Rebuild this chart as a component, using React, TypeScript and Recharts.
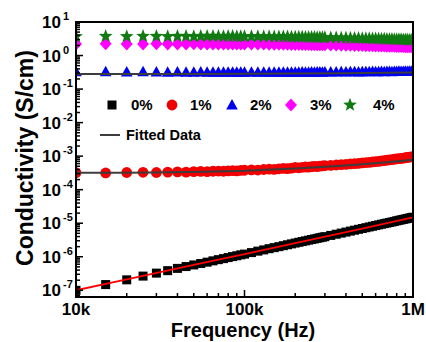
import React from "react";
import { Scatter, ScatterChart, XAxis, YAxis } from "recharts";

// frequency in kHz (10k .. 1M)
const FREQ_KHZ = [
  10, 15, 20, 25, 30, 35, 40, 45, 50, 55, 60, 65, 70, 75, 80, 85, 90, 95, 100,
  110, 120, 130, 140, 150, 160, 170, 180, 190, 200, 210, 220, 230, 240, 250, 260, 270, 280, 290, 300,
  325, 350, 375, 400, 425, 450, 475, 500, 525, 550, 575, 600, 625, 650, 675, 700, 725, 750, 775, 800,
  825, 850, 875, 900, 925, 950, 975, 1000,
];

// conductivity (S/cm) per doping level
const SIGMA_0 = [
  1.0e-7, 1.48e-7, 2.05e-7, 2.65e-7, 3.25e-7, 3.85e-7, 4.5e-7, 5.1e-7, 5.7e-7, 6.3e-7, 6.9e-7, 7.55e-7, 8.2e-7, 8.8e-7, 9.45e-7, 1.01e-6, 1.07e-6, 1.14e-6, 1.2e-6,
  1.33e-6, 1.47e-6, 1.6e-6, 1.74e-6, 1.87e-6, 2.0e-6, 2.14e-6, 2.28e-6, 2.42e-6, 2.56e-6, 2.7e-6, 2.84e-6, 2.98e-6, 3.12e-6, 3.26e-6, 3.4e-6, 3.55e-6, 3.69e-6, 3.83e-6, 3.97e-6,
  4.33e-6, 4.7e-6, 5.07e-6, 5.44e-6, 5.82e-6, 6.2e-6, 6.58e-6, 6.96e-6, 7.35e-6, 7.74e-6, 8.13e-6, 8.52e-6, 8.92e-6, 9.32e-6, 9.72e-6, 1.01e-5, 1.05e-5, 1.09e-5, 1.13e-5, 1.18e-5,
  1.22e-5, 1.26e-5, 1.3e-5, 1.34e-5, 1.38e-5, 1.43e-5, 1.47e-5, 1.51e-5,
];
const SIGMA_1 = [
  3.2e-4, 3.15e-4, 3.25e-4, 3.3e-4, 3.25e-4, 3.35e-4, 3.4e-4, 3.35e-4, 3.45e-4, 3.5e-4, 3.45e-4, 3.55e-4, 3.6e-4, 3.55e-4, 3.65e-4, 3.7e-4, 3.65e-4, 3.75e-4, 3.8e-4,
  3.9e-4, 3.85e-4, 4.0e-4, 4.1e-4, 4.05e-4, 4.2e-4, 4.3e-4, 4.25e-4, 4.4e-4, 4.6e-4, 4.5e-4, 4.65e-4, 4.75e-4, 4.7e-4, 4.85e-4, 4.95e-4, 4.9e-4, 5.05e-4, 5.15e-4, 5.2e-4,
  5.3e-4, 5.45e-4, 5.6e-4, 5.7e-4, 5.85e-4, 6.0e-4, 6.1e-4, 6.3e-4, 6.45e-4, 6.55e-4, 6.75e-4, 6.9e-4, 7.0e-4, 7.2e-4, 7.35e-4, 7.6e-4, 7.7e-4, 7.9e-4, 8.1e-4, 8.25e-4,
  8.4e-4, 8.6e-4, 8.75e-4, 8.95e-4, 9.1e-4, 9.3e-4, 9.45e-4, 9.6e-4,
];
const SIGMA_2 = [
  0.33, 0.33, 0.325, 0.33, 0.325, 0.32, 0.325, 0.32, 0.32, 0.325, 0.32, 0.32, 0.315, 0.32, 0.32, 0.315, 0.32, 0.315, 0.32,
  0.32, 0.315, 0.32, 0.32, 0.315, 0.32, 0.32, 0.315, 0.32, 0.32, 0.32, 0.325, 0.32, 0.32, 0.325, 0.32, 0.325, 0.325, 0.32, 0.325,
  0.325, 0.325, 0.33, 0.325, 0.33, 0.33, 0.325, 0.33, 0.33, 0.33, 0.335, 0.33, 0.33, 0.335, 0.33, 0.335, 0.335, 0.33, 0.335, 0.335,
  0.34, 0.335, 0.335, 0.34, 0.335, 0.34, 0.34, 0.34,
];
const SIGMA_3 = [
  2.2, 2.25, 2.2, 2.2, 2.25, 2.2, 2.2, 2.2, 2.25, 2.2, 2.2, 2.2, 2.2, 2.2, 2.2, 2.2, 2.2, 2.2, 2.2,
  2.2, 2.2, 2.2, 2.18, 2.18, 2.18, 2.17, 2.16, 2.15, 2.15, 2.14, 2.13, 2.12, 2.12, 2.11, 2.1, 2.1, 2.09, 2.08, 2.08,
  2.06, 2.05, 2.04, 2.02, 2.01, 2.0, 1.99, 1.98, 1.97, 1.96, 1.95, 1.94, 1.93, 1.92, 1.91, 1.9, 1.89, 1.89, 1.88, 1.87,
  1.86, 1.86, 1.85, 1.84, 1.84, 1.83, 1.82, 1.82,
];
const SIGMA_4 = [
  3.7, 3.75, 3.7, 3.75, 3.75, 3.7, 3.75, 3.75, 3.7, 3.75, 3.75, 3.75, 3.75, 3.7, 3.75, 3.75, 3.7, 3.7, 3.7,
  3.7, 3.7, 3.68, 3.68, 3.66, 3.65, 3.64, 3.62, 3.6, 3.6, 3.58, 3.56, 3.55, 3.54, 3.52, 3.5, 3.49, 3.48, 3.46, 3.45,
  3.42, 3.4, 3.37, 3.34, 3.32, 3.3, 3.27, 3.25, 3.23, 3.21, 3.19, 3.17, 3.15, 3.13, 3.11, 3.09, 3.08, 3.06, 3.04, 3.03,
  3.01, 3.0, 2.98, 2.97, 2.95, 2.94, 2.92, 2.91,
];

// fitted curves
const FIT0_FREQ = [10, 20, 50, 100, 200, 500, 1000];
const FIT0 = [1.0e-7, 2.1e-7, 5.7e-7, 1.2e-6, 2.55e-6, 6.9e-6, 1.5e-5];
const FIT_FREQ = [10, 20, 50, 100, 200, 400, 700, 1000];
const FIT1 = [3.2e-4, 3.22e-4, 3.35e-4, 3.65e-4, 4.3e-4, 5.3e-4, 6.6e-4, 7.8e-4];
const FIT2 = [0.28, 0.28, 0.282, 0.285, 0.29, 0.297, 0.305, 0.312];

const X_TICKS = [10, 20, 30, 40, 50, 60, 70, 80, 90, 100, 200, 300, 400, 500, 600, 700, 800, 900, 1000];
const X_LABELS: Record<number, string> = { 10: "10k", 100: "100k", 1000: "1M" };
const Y_EXPONENTS = [-7, -6, -5, -4, -3, -2, -1, 0, 1];
const Y_MIN = Math.pow(10, -7.2);
const Y_MAX = 10;

const Y_TICKS: number[] = [];
for (let n = -8; n <= 1; n++) {
  for (let k = 1; k <= 9; k++) {
    const v = k * Math.pow(10, n);
    if (v >= Y_MIN && v <= Y_MAX * 1.0001) Y_TICKS.push(v);
  }
}

const FONT = "Arial, 'Liberation Sans', sans-serif";

const toPoints = (fs: number[], vs: number[]) => fs.map((f, i) => ({ f, v: vs[i] }));

const Square = ({ cx, cy }: any) => <rect x={cx - 4.5} y={cy - 4.5} width={9} height={9} fill="#000" />;
const Dot = ({ cx, cy }: any) => <circle cx={cx} cy={cy} r={5.4} fill="#f00000" />;
const Tri = ({ cx, cy }: any) => (
  <polygon points={`${cx},${cy - 6} ${cx + 5.8},${cy + 4.5} ${cx - 5.8},${cy + 4.5}`} fill="#0000f0" />
);
const Diamond = ({ cx, cy }: any) => (
  <polygon points={`${cx},${cy - 6.5} ${cx + 6},${cy} ${cx},${cy + 6.5} ${cx - 6},${cy}`} fill="#ff00ff" />
);
const Star = ({ cx, cy }: any) => {
  const pts: string[] = [];
  for (let i = 0; i < 10; i++) {
    const r = i % 2 === 0 ? 7.2 : 3;
    const a = -Math.PI / 2 + (i * Math.PI) / 5;
    pts.push(`${cx + r * Math.cos(a)},${cy + r * Math.sin(a)}`);
  }
  return <polygon points={pts.join(" ")} fill="#127a12" />;
};
const NoShape = () => <g />;

const XTick = ({ x, y, payload }: any) => {
  const label = X_LABELS[payload.value];
  return (
    <g>
      <line x1={x} x2={x} y1={y} y2={y - (label ? 7 : 4)} stroke="#000" strokeWidth={1.5} />
      {label && (
        <text x={x} y={y + 18} textAnchor="middle" fontFamily={FONT} fontWeight="bold" fontSize={17} fill="#000">
          {label}
        </text>
      )}
    </g>
  );
};

const YTick = ({ x, y, payload }: any) => {
  const e = Math.log10(payload.value);
  const major = Math.abs(e - Math.round(e)) < 1e-6 && Y_EXPONENTS.includes(Math.round(e));
  return (
    <g>
      <line x1={x} x2={x + (major ? 7 : 4)} y1={y} y2={y} stroke="#000" strokeWidth={1.5} />
      {major && (
        <text fontFamily={FONT} fontWeight="bold" fill="#000">
          <tspan x={x - 34} y={y + 6} fontSize={17}>10</tspan>
          <tspan x={x - 13} y={y - 2} fontSize={11}>{Math.round(e)}</tspan>
        </text>
      )}
    </g>
  );
};

const LEGEND = [
  { label: "0%", Icon: Square, ix: 112, tx: 131 },
  { label: "1%", Icon: Dot, ix: 172, tx: 190 },
  { label: "2%", Icon: Tri, ix: 232, tx: 250 },
  { label: "3%", Icon: Diamond, ix: 291, tx: 310 },
  { label: "4%", Icon: Star, ix: 350, tx: 373 },
];

export default function App() {
  return (
    <div style={{ position: "fixed", left: 0, top: 0, width: 426, height: 342, background: "#fff" }}>
      <ScatterChart width={426} height={342} margin={{ top: 22, right: 13, bottom: 0, left: 0 }}>
        <XAxis
          dataKey="f"
          type="number"
          scale="log"
          domain={[10, 1000]}
          ticks={X_TICKS}
          interval={0}
          tick={(p: any) => <XTick {...p} />}
          tickLine={false}
          axisLine={false}
          tickSize={0}
          tickMargin={0}
          height={45}
          allowDataOverflow
        />
        <YAxis
          dataKey="v"
          type="number"
          scale="log"
          domain={[Y_MIN, Y_MAX]}
          ticks={Y_TICKS}
          interval={0}
          tick={(p: any) => <YTick {...p} />}
          tickLine={false}
          axisLine={false}
          tickSize={0}
          tickMargin={0}
          width={76}
          allowDataOverflow
        />
        <Scatter data={toPoints(FREQ_KHZ, SIGMA_0)} shape={Square} isAnimationActive={false} />
        <Scatter data={toPoints(FREQ_KHZ, SIGMA_1)} shape={Dot} isAnimationActive={false} />
        <Scatter data={toPoints(FREQ_KHZ, SIGMA_2)} shape={Tri} isAnimationActive={false} />
        <Scatter data={toPoints(FREQ_KHZ, SIGMA_3)} shape={Diamond} isAnimationActive={false} />
        <Scatter data={toPoints(FREQ_KHZ, SIGMA_4)} shape={Star} isAnimationActive={false} />
        <Scatter data={toPoints(FIT0_FREQ, FIT0)} shape={NoShape} line={{ stroke: "#ff0000", strokeWidth: 1.8 }} lineType="joint" isAnimationActive={false} />
        <Scatter data={toPoints(FIT_FREQ, FIT1)} shape={NoShape} line={{ stroke: "#3c3c3c", strokeWidth: 2 }} lineType="joint" isAnimationActive={false} />
        <Scatter data={toPoints(FIT_FREQ, FIT2)} shape={NoShape} line={{ stroke: "#3c3c3c", strokeWidth: 2 }} lineType="joint" isAnimationActive={false} />
      </ScatterChart>

      <div
        style={{
          position: "absolute",
          left: 75,
          top: 21,
          width: 339,
          height: 277,
          border: "2px solid #000",
          boxSizing: "border-box",
          pointerEvents: "none",
        }}
      />

      <svg width={426} height={342} style={{ position: "absolute", left: 0, top: 0, pointerEvents: "none" }}>
        {LEGEND.map(({ label, Icon, ix, tx }) => (
          <g key={label}>
            <Icon cx={ix} cy={105} />
            <text x={tx} y={110} fontFamily={FONT} fontWeight="bold" fontSize={15} fill="#000">
              {label}
            </text>
          </g>
        ))}
        <line x1={100} x2={120} y1={135} y2={135} stroke="#3c3c3c" strokeWidth={2} />
        <text x={126} y={140} fontFamily={FONT} fontWeight="bold" fontSize={14.5} fill="#000">
          Fitted Data
        </text>
        <text x={243} y={337} textAnchor="middle" fontFamily={FONT} fontWeight="bold" fontSize={20} fill="#000">
          Frequency (Hz)
        </text>
        <text
          transform="translate(33,158) rotate(-90)"
          textAnchor="middle"
          fontFamily={FONT}
          fontWeight="bold"
          fontSize={23}
          fill="#000"
        >
          Conductivity (S/cm)
        </text>
      </svg>
    </div>
  );
}
